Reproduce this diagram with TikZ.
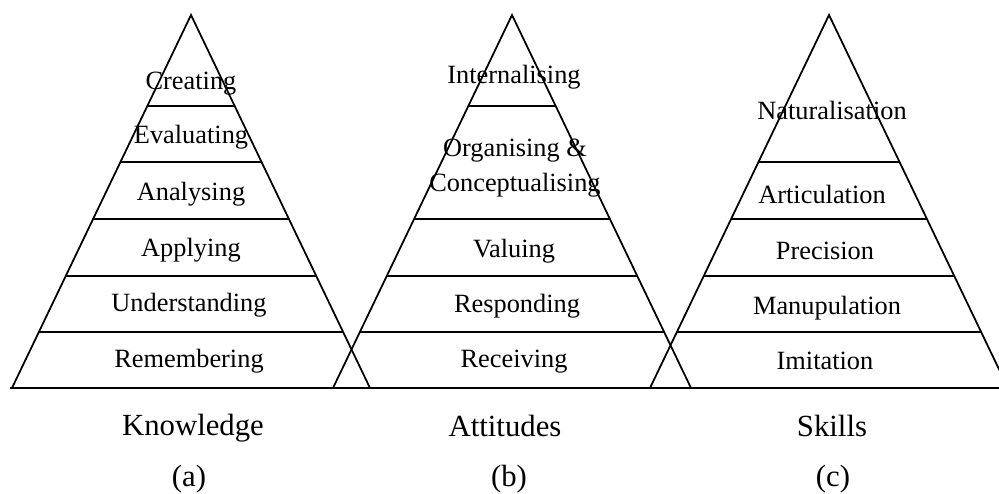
\documentclass[tikz,border=0pt]{standalone}
\usepackage{fontspec}
\setmainfont{Liberation Serif}
\usetikzlibrary{calc}
\def\rung(#1)(#2)(#3:#4){\draw ($(#1)!#4!(#2)$) -- ($(#1)!#4!(#3)$);}

\begin{document}
\begin{tikzpicture}[x=0.02cm, y=-0.02cm, line width=1pt,
		tier/.style={font=\fontsize{15}{19.5}\selectfont},
		pyrname/.style={font=\fontsize{17.5}{20}\selectfont}]
		%%%%% START %%%%%
		\useasboundingbox (0, 0) rectangle (999, 493);
		
		% corners of the three pyramids
		\coordinate (atop) at (191, 15);
		\coordinate (aleft) at (12, 388);
		\coordinate (aright) at (370, 388);
		\coordinate (btop) at (512, 15);
		\coordinate (bleft) at (333, 388);
		\coordinate (bright) at (691, 388);
		\coordinate (ctop) at (829, 15);
		\coordinate (cleft) at (650, 388);
		\coordinate (cright) at (1008, 388);
		
		% common base line
		\draw (10, 388) -- (1010, 388);
		
		% (a) knowledge
		\draw (aleft) -- (atop) -- (aright);
		\rung(atop)(aleft)(aright:0.244)
		\rung(atop)(aleft)(aright:0.394)
		\rung(atop)(aleft)(aright:0.547)
		\rung(atop)(aleft)(aright:0.700)
		\rung(atop)(aleft)(aright:0.850)
		
		\node[tier] (creating) at (191, 84) {Creating};
		\node[tier] (evaluating) at (191, 137) {Evaluating};
		\node[tier] (analysing) at (191, 194) {Analysing};
		\node[tier] (applying) at (191, 250) {Applying};
		\node[tier] (understanding) at (189, 305) {Understanding};
		\node[tier] (remembering) at (189, 361) {Remembering};
		
		% (b) attitudes
		\draw (bleft) -- (btop) -- (bright);
		\rung(btop)(bleft)(bright:0.244)
		\rung(btop)(bleft)(bright:0.547)
		\rung(btop)(bleft)(bright:0.700)
		\rung(btop)(bleft)(bright:0.850)
		
		\node[tier] (internalising) at (514, 77) {Internalising};
		\node[tier, align=center] (organising) at (515, 168) {Organising \&\\Conceptualising};
		\node[tier] (valuing) at (514, 251) {Valuing};
		\node[tier] (responding) at (517, 306) {Responding};
		\node[tier] (receiving) at (514, 362) {Receiving};
		
		% (c) skills
		\draw (cleft) -- (ctop) -- (cright);
		\rung(ctop)(cleft)(cright:0.394)
		\rung(ctop)(cleft)(cright:0.547)
		\rung(ctop)(cleft)(cright:0.700)
		\rung(ctop)(cleft)(cright:0.850)
		
		\node[tier] (naturalisation) at (832, 110) {Naturalisation};
		\node[tier] (articulation) at (822, 194) {Articulation};
		\node[tier] (precision) at (825, 251) {Precision};
		\node[tier] (manupulation) at (827, 308) {Manupulation};
		\node[tier] (imitation) at (825, 361) {Imitation};
		
		% names under the pyramids
		\node[pyrname] (knowledge) at (193, 428) {Knowledge};
		\node[pyrname] (capa) at (189, 479) {(a)};
		\node[pyrname] (attitudes) at (505, 426) {Attitudes};
		\node[pyrname] (capb) at (509, 479) {(b)};
		\node[pyrname] (skills) at (832, 426) {Skills};
		\node[pyrname] (capc) at (833, 479) {(c)};
		%%%%% END %%%%%
\end{tikzpicture}
\end{document}
